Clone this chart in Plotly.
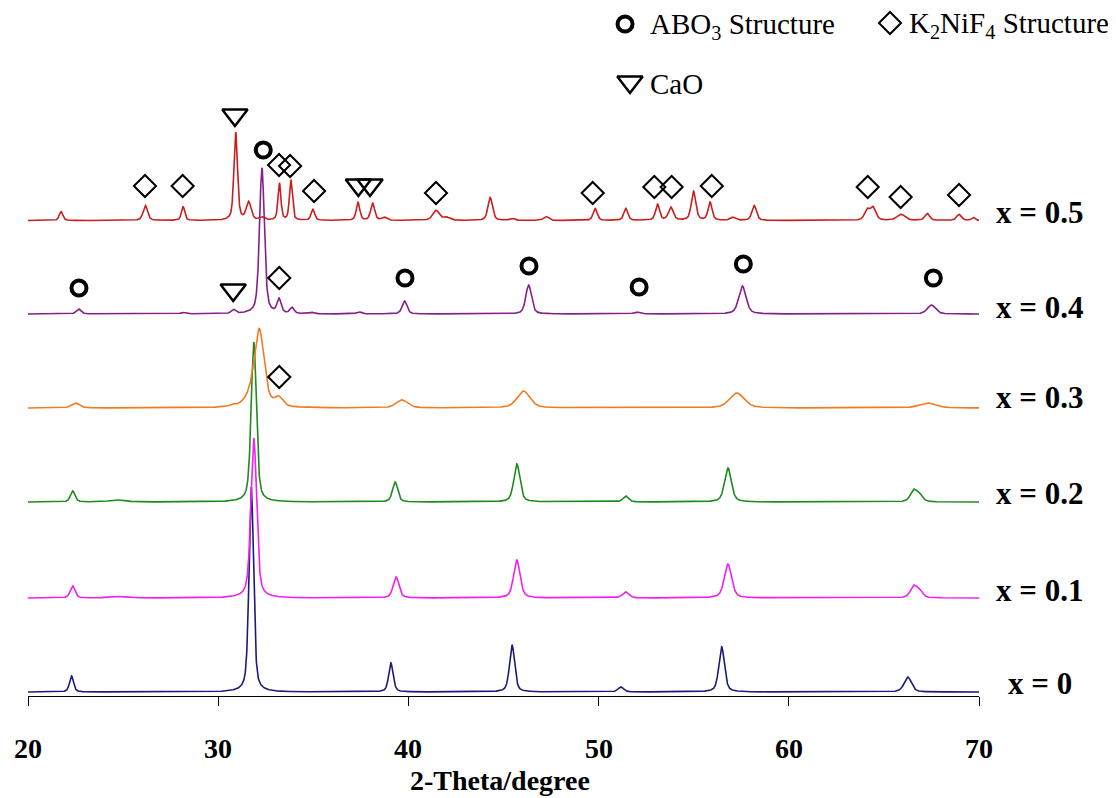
import numpy as np
import plotly.graph_objects as go

# ---------------- data ----------------
series_names = ["x = 0", "x = 0.1", "x = 0.2", "x = 0.3", "x = 0.4", "x = 0.5"]
series_colors = ["#1C1C78", "#F020F0", "#1E8A1E", "#F47A22", "#85208A", "#C81E1E"]
series_offsets = [4, 98, 194, 288, 382, 475.5]

# peak positions (2-theta, degree), heights (a.u.), widths (FWHM, degree)
pos_x0 = [22.29, 31.74, 39.08, 45.45, 51.17, 56.47, 66.25]
hgt_x0 = [16, 205, 29, 47, 5, 45, 15]
wid_x0 = [0.25, 0.28, 0.28, 0.32, 0.35, 0.35, 0.45]

pos_x01 = [22.35, 24.7, 31.87, 39.35, 45.7, 51.42, 56.8, 66.55, 66.85]
hgt_x01 = [12, 1.5, 160, 21, 38, 6, 34, 11, 7]
wid_x01 = [0.3, 1.0, 0.35, 0.35, 0.4, 0.4, 0.45, 0.4, 0.4]

pos_x02 = [22.35, 24.7, 31.87, 39.3, 45.7, 51.43, 56.8, 66.55, 66.85]
hgt_x02 = [11, 2, 160, 20, 38, 6, 34, 11, 7]
wid_x02 = [0.28, 1.0, 0.32, 0.32, 0.38, 0.35, 0.42, 0.4, 0.4]

pos_x03 = [22.5, 30.73, 31.7, 32.16, 33.18, 39.66, 46.05, 57.27, 67.3]
hgt_x03 = [5, 2, 8, 76, 9, 8, 17, 15, 5]
wid_x03 = [0.5, 0.3, 0.8, 0.6, 0.5, 0.7, 0.8, 0.9, 1.0]

pos_x04 = [22.67, 28.15, 30.8, 32.3, 33.2, 33.88, 34.9, 37.4, 39.8, 46.32, 52.0, 57.56, 67.5]
hgt_x04 = [5, 1.5, 4, 146, 14, 6, 1.5, 2, 13, 29, 2, 28, 9]
wid_x04 = [0.3, 0.3, 0.25, 0.3, 0.25, 0.25, 0.3, 0.3, 0.3, 0.35, 0.4, 0.45, 0.5]

pos_x05 = [21.74, 26.17, 28.15, 30.92, 31.6, 32.3, 33.22, 33.82, 34.98, 37.35, 38.12,
           38.73, 41.45, 42.0, 44.3, 45.44, 47.23, 49.82, 51.43, 53.1, 53.8, 54.99,
           55.86, 57.04, 58.18, 64.1, 64.42, 65.9, 67.28, 68.95, 69.7]
hgt_x05 = [9, 15, 14, 88, 18, 3, 37, 40, 11, 18, 17,
           3, 10, 3, 23, 2, 4, 12, 12, 16, 13, 29,
           18, 3, 15, 10, 13, 6, 7, 6, 3]
wid_x05 = [0.22, 0.28, 0.2, 0.22, 0.3, 0.3, 0.18, 0.18, 0.22, 0.22, 0.25,
           0.3, 0.4, 0.4, 0.28, 0.3, 0.3, 0.25, 0.25, 0.25, 0.3, 0.28,
           0.25, 0.3, 0.28, 0.3, 0.35, 0.5, 0.3, 0.3, 0.2]

peak_tables = [(pos_x0, hgt_x0, wid_x0), (pos_x01, hgt_x01, wid_x01),
               (pos_x02, hgt_x02, wid_x02), (pos_x03, hgt_x03, wid_x03),
               (pos_x04, hgt_x04, wid_x04), (pos_x05, hgt_x05, wid_x05)]

# phase markers (2-theta, level)
abo3_x = [32.37, 22.68, 39.82, 46.34, 52.13, 57.61, 67.6]
abo3_y = [546, 408, 418, 430, 409, 432, 418]
k2nif4_x = [26.15, 28.13, 33.2, 33.78, 35.04, 41.45, 49.69, 52.93, 53.84, 55.95,
            64.15, 65.88, 68.95, 33.21, 33.21]
k2nif4_y = [510, 510, 531, 530, 505, 503, 503, 509, 509, 510,
            509, 499, 501, 418, 319]
cao_x = [30.88, 37.37, 37.98, 30.79]
cao_y = [581, 511, 511, 406]

tick_vals = [20, 30, 40, 50, 60, 70]
tick_text = ["20", "30", "40", "50", "60", "70"]

# ---------------- figure ----------------
two_theta = np.arange(20.0, 70.0001, 0.01)

def pattern(pos, hgt, wid):
    y = np.zeros_like(two_theta)
    for p, h, w in zip(pos, hgt, wid):
        g = (w / 2.0) ** 2
        lor = g / ((two_theta - p) ** 2 + g)
        gau = np.exp(-4 * np.log(2) * (two_theta - p) ** 2 / w ** 2)
        y += h * (0.5 * lor + 0.5 * gau)
    return y

fig = go.Figure()
for name, col, off, (pos, hgt, wid) in zip(series_names, series_colors, series_offsets, peak_tables):
    fig.add_trace(go.Scatter(x=two_theta, y=pattern(pos, hgt, wid) + off, mode="lines",
                             line=dict(color=col, width=1.6), name=name, showlegend=False,
                             hoverinfo="skip"))

circ = dict(symbol="circle-open", size=15, color="black", line=dict(color="black", width=4))
diam = dict(symbol="diamond-open", size=17, color="black", line=dict(color="black", width=2))
tri = dict(symbol="triangle-down-open", size=22, color="black", line=dict(color="black", width=2.5))

fig.add_trace(go.Scatter(x=abo3_x, y=abo3_y, mode="markers", showlegend=False, marker=circ))
fig.add_trace(go.Scatter(x=k2nif4_x, y=k2nif4_y, mode="markers", showlegend=False, marker=diam))
fig.add_trace(go.Scatter(x=cao_x, y=cao_y, mode="markers", showlegend=False, marker=tri))

# legend key symbols
fig.add_trace(go.Scatter(x=[51.39], y=[672], mode="markers", showlegend=False, cliponaxis=False,
                         marker=circ))
fig.add_trace(go.Scatter(x=[65.32], y=[673], mode="markers", showlegend=False, cliponaxis=False,
                         marker=diam))
fig.add_trace(go.Scatter(x=[51.65], y=[614], mode="markers", showlegend=False, cliponaxis=False,
                         marker=tri))

serif = "Liberation Serif, Times New Roman, serif"
annos = [
    dict(x=52.6, y=670, text="ABO<sub>3</sub> Structure", xanchor="left"),
    dict(x=66.2, y=671, text="K<sub>2</sub>NiF<sub>4</sub> Structure", xanchor="left"),
    dict(x=52.6, y=612, text="CaO", xanchor="left"),
]
for a in annos:
    fig.add_annotation(xref="x", yref="y", yanchor="middle", showarrow=False,
                       font=dict(family=serif, size=29, color="black"), **a)

label_y = [13, 106, 203, 299, 389, 484]
for name, ly in zip(series_names, label_y):
    fig.add_annotation(xref="paper", yref="y", x=1.064, y=ly, text=name, showarrow=False,
                       xanchor="center", yanchor="middle",
                       font=dict(family=serif, size=31, color="black", weight="bold"))

# x tick labels (placed on the x scale, below the tick marks)
for tv, tt in zip(tick_vals, tick_text):
    fig.add_annotation(xref="x", yref="paper", x=tv, y=-0.077, text=tt, showarrow=False,
                       xanchor="center", yanchor="middle",
                       font=dict(family=serif, size=28, color="black", weight="bold"))

fig.add_annotation(xref="paper", yref="paper", x=0.496, y=-0.123, text="2-Theta/degree",
                   showarrow=False, xanchor="center", yanchor="middle",
                   font=dict(family=serif, size=28, color="black", weight="bold"))

# page body adds an 8px margin, so the figure is 8px smaller and plot area shifted accordingly
fig.update_layout(
    width=1108, height=790,
    margin=dict(l=20, r=137, t=2, b=102),
    paper_bgcolor="white", plot_bgcolor="white",
    xaxis=dict(range=[20, 70], tickvals=tick_vals, ticks="outside", ticklen=9, tickwidth=1.2,
               tickcolor="black", showline=True, linecolor="black", linewidth=1.2,
               showgrid=False, zeroline=False, showticklabels=False),
    yaxis=dict(range=[0, 686], visible=False, showgrid=False, zeroline=False),
)

fig.write_html("out.html")
